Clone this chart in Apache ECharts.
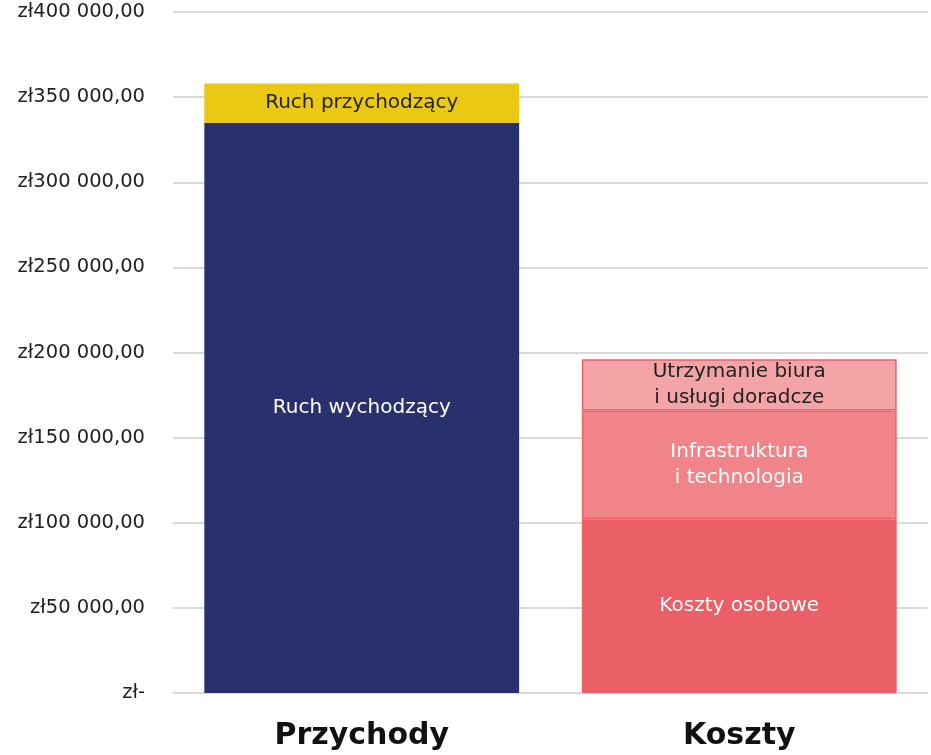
<!DOCTYPE html>
<html><head><meta charset="utf-8">
<script src="https://cdn.jsdelivr.net/npm/echarts@6/dist/echarts.min.js"></script>
<style>html,body{margin:0;padding:0;background:#fff}#c{width:931px;height:755px}</style>
</head><body><div id="c"></div>
<script>
const categories = ['Przychody', 'Koszty'];
const ruchWychodzacy = [335000, null];
const ruchPrzychodzacy = [23000, null];
const kosztyOsobowe = [null, 102000];
const infrastruktura = [null, 64000];
const utrzymanie = [null, 30000];
const yTicks = [0, 50000, 100000, 150000, 200000, 250000, 300000, 350000, 400000];

const FONT = '"DejaVu Sans", sans-serif';
function fmt(v){
  if (v === 0) return 'zł-';
  const s = String(Math.round(v)).replace(/\B(?=(\d{3})+(?!\d))/g, ' ');
  return 'zł' + s + ',00';
}
function ser(name, data, color, labelColor, label, border){
  return {
    name, type: 'bar', stack: 'a', data, barWidth: '83.4%',
    itemStyle: border ? {color, borderColor: '#ec6168', borderWidth: 1.5} : {color},
    label: {show: true, position: 'inside', formatter: p => p.value == null ? '' : label,
      color: labelColor, fontFamily: FONT, fontSize: 20, lineHeight: 26},
    emphasis: {disabled: true}
  };
}
const chart = echarts.init(document.getElementById('c'));
chart.setOption({
  animation: false,
  grid: {left: 173, right: 3, top: 12, bottom: 62},
  xAxis: {type: 'category', data: categories,
    axisLine: {show: false}, axisTick: {show: false},
    axisLabel: {fontFamily: FONT, fontSize: 30, fontWeight: 'bold', color: '#111', margin: 28}},
  yAxis: {type: 'value', min: 0, max: 400000, interval: 50000,
    axisLine: {show: false}, axisTick: {show: false},
    splitLine: {lineStyle: {color: '#d9d9d9', width: 2}},
    axisLabel: {fontFamily: FONT, fontSize: 19.5, color: '#222', margin: 28, formatter: fmt}},
  series: [
    ser('Ruch wychodzący', ruchWychodzacy, '#28306d', '#fff', 'Ruch wychodzący', false),
    ser('Ruch przychodzący', ruchPrzychodzacy, '#ebc814', '#222', 'Ruch przychodzący', false),
    ser('Koszty osobowe', kosztyOsobowe, '#eb5f66', '#fff', 'Koszty osobowe', true),
    ser('Infrastruktura i technologia', infrastruktura, '#f08489', '#fff', 'Infrastruktura\ni technologia', true),
    ser('Utrzymanie biura i usługi doradcze', utrzymanie, '#f4a3a6', '#222', 'Utrzymanie biura\ni usługi doradcze', true)
  ]
});
</script></body></html>
